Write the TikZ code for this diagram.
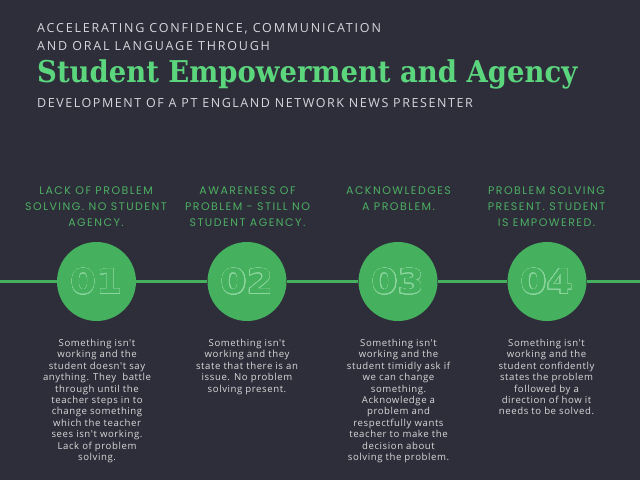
\documentclass[tikz,border=0pt]{standalone}
\usepackage{fontspec}
\usepackage{contour}
\newfontfamily\capsfont[LetterSpace=14.5]{Open Sans}
\newfontfamily\subfont[LetterSpace=12.5]{Open Sans}
\newfontfamily\headfont[LetterSpace=13.5]{Poppins}
\newfontfamily\titlefont[FakeStretch=0.915]{DejaVu Serif}
\newfontfamily\numfont[FakeStretch=1.1]{DejaVu Sans}
\newfontfamily\bodyfont[LetterSpace=6]{Open Sans}
\definecolor{bg}{HTML}{2E2E3B}
\definecolor{circ}{HTML}{45B05E}
\definecolor{titlegreen}{HTML}{5BD67D}
\definecolor{headgreen}{HTML}{4CAF61}
\definecolor{numline}{HTML}{8CD69E}
\definecolor{graytext}{HTML}{D6D6DC}
\definecolor{bodytext}{HTML}{D9D9D9}
\contourlength{0.45pt}
\contournumber{32}
\begin{document}
\begin{tikzpicture}[x=1pt,y=-1pt,
  toptext/.style={inner sep=0pt, anchor=base west, text=graytext, font={\capsfont\fontsize{12.5}{12.5}\selectfont}},
  subtext/.style={inner sep=0pt, anchor=base west, text=graytext, font={\subfont\fontsize{12.5}{12.5}\selectfont}},
  titletext/.style={inner sep=0pt, anchor=base west, text=titlegreen, font={\titlefont\bfseries\fontsize{30}{30}\selectfont}},
  headtext/.style={inner sep=0pt, anchor=north, align=center, text=headgreen, font={\headfont\fontsize{11}{16}\selectfont}},
  bodytxt/.style={inner sep=0pt, anchor=north, align=center, text=bodytext, font={\bodyfont\fontsize{9.6}{11.4}\selectfont}},
  stepcircle/.style={circle, fill=circ, minimum size=79pt, inner sep=0pt, font={\numfont\bfseries\fontsize{34}{34}\selectfont}},
  timeline/.style={draw=circ, line width=3.5pt}
]
\fill[bg] (0,0) rectangle (640,480);
\useasboundingbox (0,0) rectangle (640,480);

\node[toptext] (t1) at (37,32) {ACCELERATING CONFIDENCE, COMMUNICATION};
\node[toptext] (t2) at (37,50.5) {AND ORAL LANGUAGE THROUGH};
\node[titletext] (title) at (37,82) {Student Empowerment and Agency};
\node[subtext] (t3) at (37,107.5) {DEVELOPMENT OF A PT ENGLAND NETWORK NEWS PRESENTER};

\coordinate (L) at (0,281.5);
\coordinate (R) at (640,281.5);
\node[stepcircle] (c1) at (96.5,281.5) {\contour{numline}{\textcolor{circ}{01}}};
\node[stepcircle] (c2) at (247,281.5) {\contour{numline}{\textcolor{circ}{02}}};
\node[stepcircle] (c3) at (398,281.5) {\contour{numline}{\textcolor{circ}{03}}};
\node[stepcircle] (c4) at (547,281.5) {\contour{numline}{\textcolor{circ}{04}}};
\draw[timeline] (L) -- (c1);
\draw[timeline] (c1) -- (c2);
\draw[timeline] (c2) -- (c3);
\draw[timeline] (c3) -- (c4);
\draw[timeline] (c4) -- (R);

\node[headtext] (h1) at (96,187) {LACK OF PROBLEM\\SOLVING. NO STUDENT\\AGENCY.};
\node[headtext] (h2) at (247.5,187) {AWARENESS OF\\PROBLEM - STILL NO\\STUDENT AGENCY.};
\node[headtext] (h3) at (398.5,187) {ACKNOWLEDGES\\A PROBLEM.};
\node[headtext] (h4) at (546.5,187) {PROBLEM SOLVING\\PRESENT. STUDENT\\IS EMPOWERED.};

\node[bodytxt] (b1) at (97,339) {Something isn't\\working and the\\student doesn't say\\anything. They\ \ battle\\through until the\\teacher steps in to\\change something\\which the teacher\\sees isn't working.\\Lack of problem\\solving.};
\node[bodytxt] (b2) at (247,339) {Something isn't\\working and they\\state that there is an\\issue. No problem\\solving present.};
\node[bodytxt] (b3) at (398.5,339) {Something isn't\\working and the\\student timidly ask if\\we can change\\something.\\Acknowledge a\\problem and\\respectfully wants\\teacher to make the\\decision about\\solving the problem.};
\node[bodytxt] (b4) at (546.5,339) {Something isn't\\working and the\\student confidently\\states the problem\\followed by a\\direction of how it\\needs to be solved.};
\end{tikzpicture}
\end{document}
